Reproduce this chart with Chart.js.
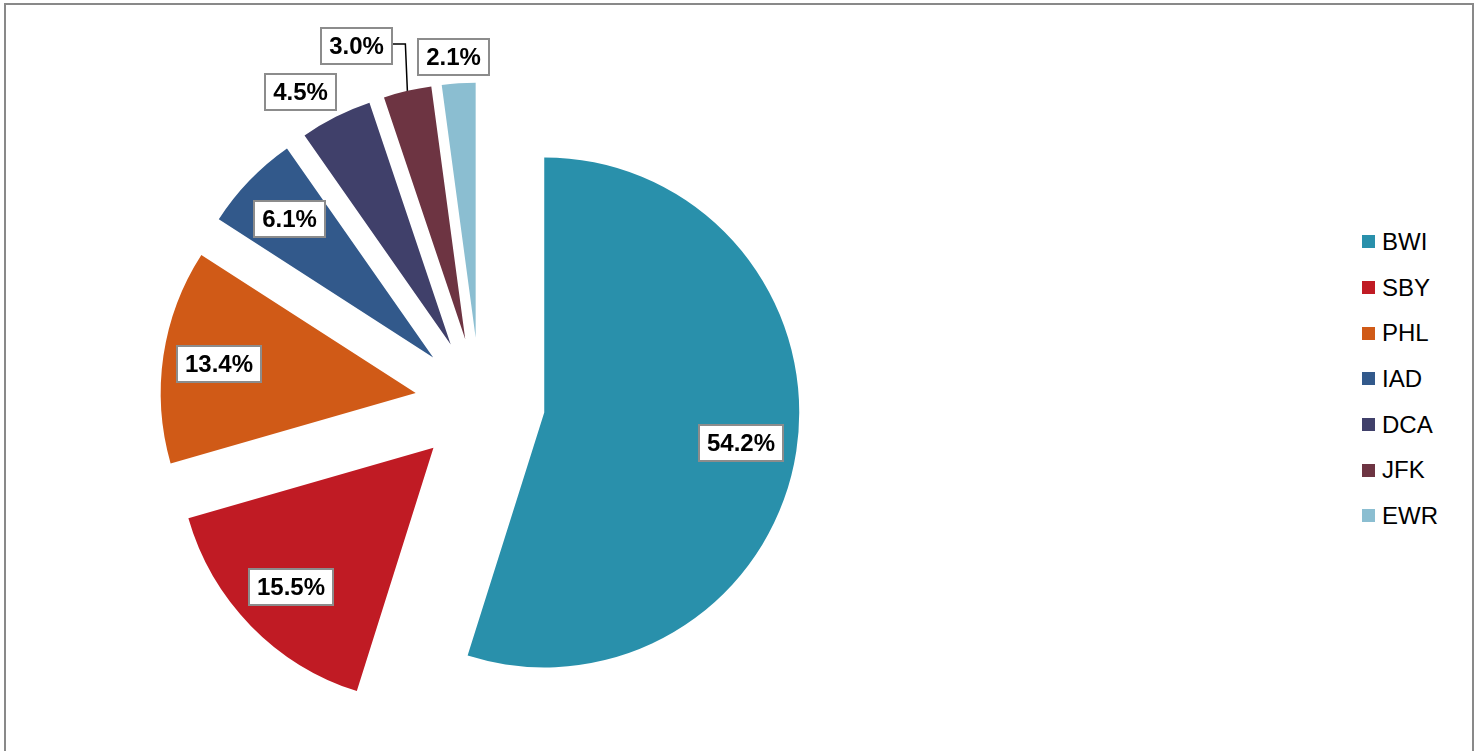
<!DOCTYPE html>
<html>
<head>
<meta charset="utf-8">
<script src="https://cdn.jsdelivr.net/npm/chart.js@4.4.1/dist/chart.umd.min.js"></script>
<style>
  html, body { margin: 0; padding: 0; background: #fff; overflow: hidden; }
  #page { position: relative; width: 1476px; height: 751px; }
  #frame { position: absolute; left: 4px; top: 3px; width: 1466px; height: 800px; border: 2px solid #898989; }
  #pie { position: absolute; left: 0; top: 0; }
  #legend { position: absolute; left: 1362px; top: 219px; font-family: "Liberation Sans", Arial, sans-serif; font-size: 24px; color: #000; }
  .item { height: 45.7px; display: flex; align-items: center; }
  .swatch { width: 13px; height: 13px; margin-right: 7px; }
</style>
</head>
<body>
<div id="page">
  <div id="frame"></div>
  <canvas id="pie" width="960" height="751"></canvas>
  <div id="legend"></div>
</div>
<script>
const airports = ['BWI', 'SBY', 'PHL', 'IAD', 'DCA', 'JFK', 'EWR'];
const shares = [54.2, 15.5, 13.4, 6.1, 4.5, 3.0, 2.1];
const colors = ['#2990ab', '#c01b24', '#d05a17', '#32598b', '#40406a', '#6d3442', '#8bbed1'];

// pull every slice out from the centre, like an exploded excel pie
const explode = {
    id: 'explode',
    afterDatasetsUpdate(chart, args, opts) {
        chart.getDatasetMeta(0).data.forEach(function(arc) {
            const mid = (arc.startAngle + arc.endAngle) / 2;
            arc.x += Math.cos(mid) * opts.distance;
            arc.y += Math.sin(mid) * opts.distance;
        });
    }
};

// boxed percentage labels, inside big slices and outside small ones
const sliceLabels = {
    id: 'sliceLabels',
    afterDatasetsDraw(chart, args, opts) {
        const ctx = chart.ctx;
        const values = chart.data.datasets[0].data;
        ctx.save();
        ctx.font = opts.font;
        ctx.textAlign = 'center';
        ctx.textBaseline = 'middle';
        chart.getDatasetMeta(0).data.forEach(function(arc, i) {
            const value = values[i];
            const text = value.toFixed(1) + '%';
            const mid = (arc.startAngle + arc.endAngle) / 2;
            const dx = Math.cos(mid), dy = Math.sin(mid);
            const r = arc.outerRadius;
            const w = Math.round(ctx.measureText(text).width + opts.padX * 2);
            const h = opts.boxHeight;
            let cx, cy, leader = null;
            if (value >= opts.insideMin) {
                cx = arc.x + dx * r * opts.insideRatio;
                cy = arc.y + dy * r * opts.insideRatio;
            } else {
                const px = arc.x + dx * r, py = arc.y + dy * r;
                const k = function(v) { return Math.max(-1, Math.min(1, v * 2)); };
                cx = px + dx * opts.gap + w / 2 * k(dx);
                cy = py + dy * opts.gap + h / 2 * k(dy);
                const n = opts.nudge[chart.data.labels[i]];
                if (n) {
                    cx += n[0];
                    cy += n[1];
                    leader = [px, py];
                }
            }
            const left = Math.round(cx - w / 2), top = Math.round(cy - h / 2);
            if (leader) {
                ctx.beginPath();
                ctx.strokeStyle = '#000';
                ctx.lineWidth = 1.5;
                ctx.moveTo(left + w, top + h / 2 - 2);
                ctx.lineTo(leader[0] - 2, top + h / 2 - 2);
                ctx.lineTo(leader[0], leader[1]);
                ctx.stroke();
            }
            ctx.fillStyle = '#fff';
            ctx.fillRect(left, top, w, h);
            ctx.strokeStyle = '#8c8c8c';
            ctx.lineWidth = 2;
            ctx.strokeRect(left, top, w, h);
            ctx.fillStyle = '#000';
            ctx.fillText(text, left + w / 2, top + h / 2 + 1);
        });
        ctx.restore();
    }
};

const ctx = document.getElementById('pie');

const chart = new Chart(ctx, {
    type: 'pie',
    data: {
        labels: airports,
        datasets: [
        {
            data: shares,
            backgroundColor: colors,
            borderWidth: 0,
            radius: 255,
            clip: false
        }
        ]
    },
    options: {
        responsive: false,
        animation: false,
        events: [],
        layout: { padding: { top: 54, bottom: 0, left: 0, right: 0 } },
        plugins: {
            legend: { display: false },
            tooltip: { enabled: false },
            explode: { distance: 65 },
            sliceLabels: {
                font: 'bold 24px "Liberation Sans", Arial, sans-serif',
                padX: 8,
                boxHeight: 36,
                insideMin: 5,
                insideRatio: 0.78,
                gap: 8,
                nudge: { JFK: [-33, -19] }
            }
        }
    },
    plugins: [explode, sliceLabels]
});

const legend = document.getElementById('legend');
airports.forEach(function(name, i) {
    const row = document.createElement('div');
    row.className = 'item';
    const sw = document.createElement('span');
    sw.className = 'swatch';
    sw.style.background = colors[i];
    const label = document.createElement('span');
    label.textContent = name;
    row.appendChild(sw);
    row.appendChild(label);
    legend.appendChild(row);
});
</script>
</body>
</html>
